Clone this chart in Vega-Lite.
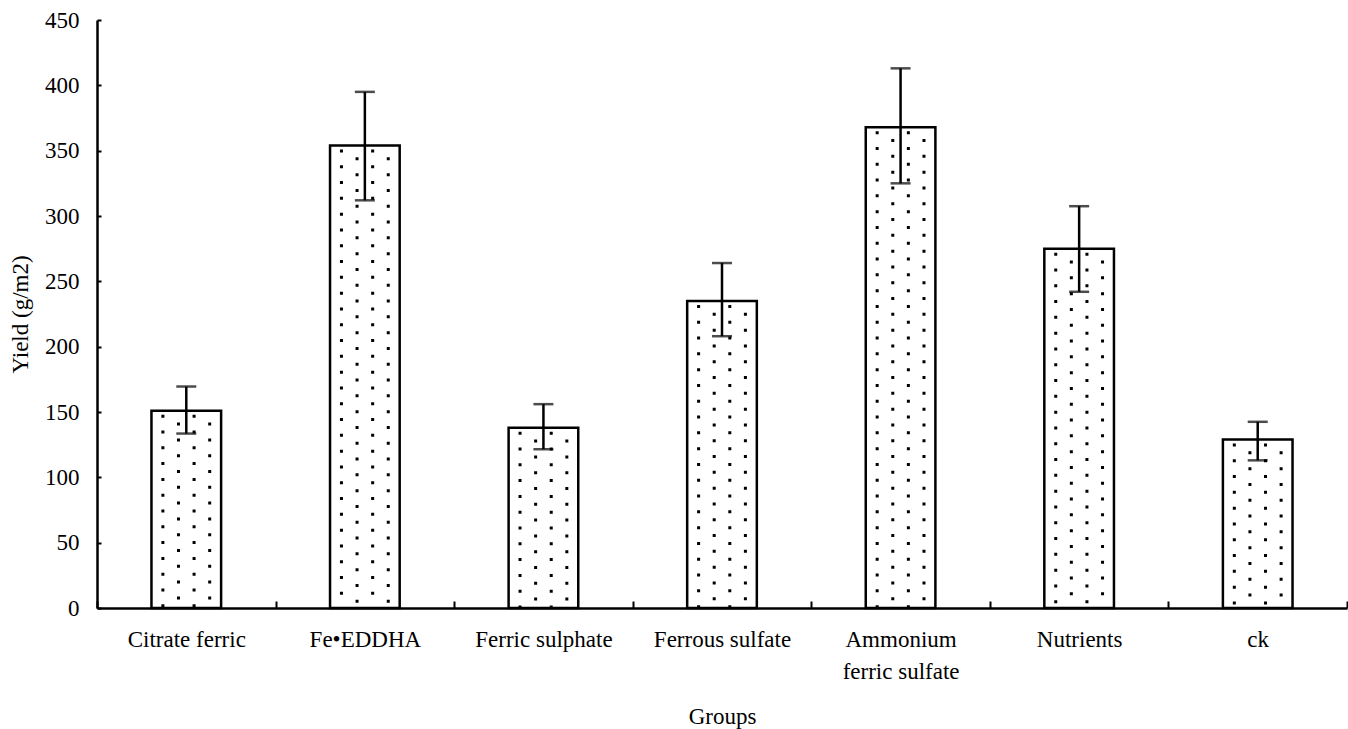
{
  "$schema": "https://vega.github.io/schema/vega-lite/v6.json",
  "width": 1250,
  "height": 588,
  "autosize": "none",
  "padding": {"left": 97, "top": 20, "right": 1, "bottom": 121},
  "background": "white",
  "config": {
    "view": {"stroke": null},
    "font": "Times New Roman, Liberation Serif, serif",
    "axis": {
      "labelFont": "Times New Roman, Liberation Serif, serif",
      "titleFont": "Times New Roman, Liberation Serif, serif",
      "labelFontSize": 23,
      "titleFontSize": 23,
      "labelColor": "#000",
      "titleColor": "#000",
      "titleFontWeight": "normal",
      "domainColor": "#000",
      "domainWidth": 2.5,
      "tickColor": "#000",
      "tickWidth": 2,
      "grid": false
    }
  },
  "data": {
    "values": [
      {"group": "Citrate ferric", "yield": 151, "lo": 133.5, "hi": 169.5},
      {"group": "Fe•EDDHA", "yield": 354, "lo": 312, "hi": 395},
      {"group": "Ferric sulphate", "yield": 138, "lo": 121.5, "hi": 156},
      {"group": "Ferrous sulfate", "yield": 235, "lo": 208, "hi": 264},
      {"group": "Ammonium ferric sulfate", "yield": 368, "lo": 325, "hi": 413},
      {"group": "Nutrients", "yield": 275, "lo": 242, "hi": 307.5},
      {"group": "ck", "yield": 129, "lo": 113, "hi": 142.5}
    ]
  },
  "encoding": {
    "x": {
      "field": "group",
      "type": "nominal",
      "sort": null,
      "scale": {"paddingInner": 0, "paddingOuter": 0},
      "axis": {
        "title": "Groups",
        "labelAngle": 0,
        "tickBand": "extent",
        "tickSize": -7,
        "labelPadding": 27,
        "labelBaseline": "top",
        "labelLineHeight": 32,
        "labelExpr": "datum.value == 'Ammonium ferric sulfate' ? ['Ammonium', 'ferric sulfate'] : datum.value",
        "titlePadding": 22
      }
    }
  },
  "layer": [
    {
      "mark": {"type": "bar", "width": {"band": 0.39}, "fill": "white", "stroke": "#000", "strokeWidth": 2.5},
      "encoding": {
        "y": {
          "field": "yield",
          "type": "quantitative",
          "scale": {"domain": [0, 450], "nice": false},
          "axis": {
            "title": "Yield (g/m2)",
            "values": [0, 50, 100, 150, 200, 250, 300, 350, 400, 450],
            "tickSize": -4,
            "labelPadding": 22,
            "titlePadding": 12
          }
        }
      }
    },
    {
      "mark": {"type": "rule", "xOffset": -23.4, "stroke": "#000", "strokeWidth": 3, "strokeDash": [3, 12.8], "strokeDashOffset": 11.8},
      "encoding": {"y": {"field": "yield", "type": "quantitative"}, "y2": {"datum": 0}}
    },
    {
      "mark": {"type": "rule", "xOffset": -7.8, "stroke": "#000", "strokeWidth": 3, "strokeDash": [3, 12.8], "strokeDashOffset": 3.9},
      "encoding": {"y": {"field": "yield", "type": "quantitative"}, "y2": {"datum": 0}}
    },
    {
      "mark": {"type": "rule", "xOffset": 7.8, "stroke": "#000", "strokeWidth": 3, "strokeDash": [3, 12.8], "strokeDashOffset": 11.8},
      "encoding": {"y": {"field": "yield", "type": "quantitative"}, "y2": {"datum": 0}}
    },
    {
      "mark": {"type": "rule", "xOffset": 23.4, "stroke": "#000", "strokeWidth": 3, "strokeDash": [3, 12.8], "strokeDashOffset": 3.9},
      "encoding": {"y": {"field": "yield", "type": "quantitative"}, "y2": {"datum": 0}}
    },
    {
      "mark": {"type": "rule", "stroke": "#000", "strokeWidth": 2.5},
      "encoding": {"y": {"field": "lo", "type": "quantitative"}, "y2": {"field": "hi"}}
    },
    {
      "mark": {"type": "tick", "orient": "horizontal", "size": 20, "thickness": 2.5, "color": "#000"},
      "encoding": {"y": {"field": "hi", "type": "quantitative"}}
    },
    {
      "mark": {"type": "tick", "orient": "horizontal", "size": 20, "thickness": 2.5, "color": "#000"},
      "encoding": {"y": {"field": "lo", "type": "quantitative"}}
    }
  ]
}
